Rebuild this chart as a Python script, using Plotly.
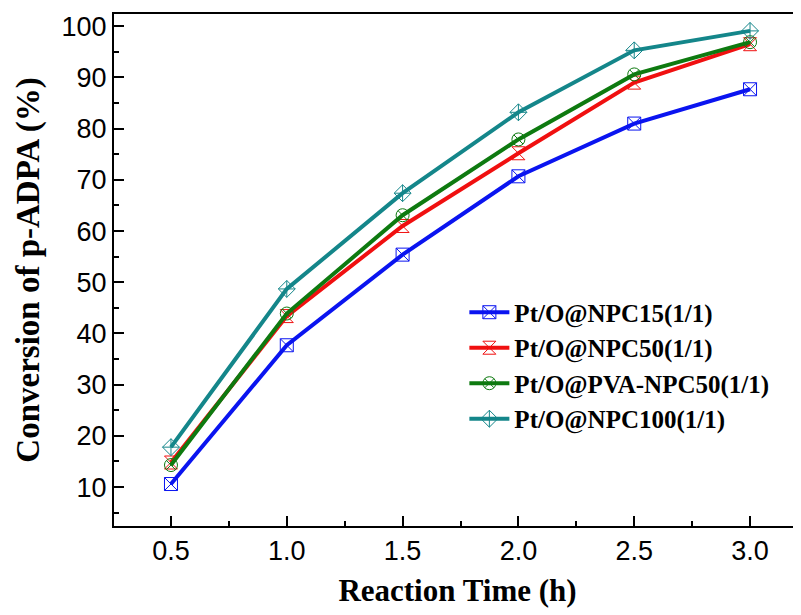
import plotly.graph_objects as go

time_h = [0.5, 1.0, 1.5, 2.0, 2.5, 3.0]
npc15 = [10.6, 37.7, 55.4, 70.7, 81.0, 87.7]
npc50 = [14.8, 43.4, 61.0, 75.2, 89.0, 96.5]
pva_npc50 = [14.3, 43.9, 63.1, 77.9, 90.6, 96.9]
npc100 = [17.8, 48.7, 67.4, 83.2, 95.3, 99.1]

names = ["Pt/O@NPC15(1/1)", "Pt/O@NPC50(1/1)", "Pt/O@PVA-NPC50(1/1)", "Pt/O@NPC100(1/1)"]
series = [npc15, npc50, pva_npc50, npc100]
colors = ["#0a14f0", "#f01010", "#0e7a10", "#14868a"]
symbols = ["square-x-open", "hourglass-open", "circle-x-open", "diamond-cross-open"]

fig = go.Figure()
for name, ys, c, s in zip(names, series, colors, symbols):
    fig.add_trace(go.Scatter(
        x=time_h, y=ys, name=name, mode="lines+markers",
        line=dict(color=c, width=4),
        marker=dict(symbol=s, size=13, color=c, line=dict(color=c, width=1)),
    ))

fig.update_layout(
    width=793, height=607,
    margin=dict(l=106, r=0, t=6, b=89),
    plot_bgcolor="white", paper_bgcolor="white",
    showlegend=True,
    legend=dict(
        x=0.51, y=0.462, xanchor="left", yanchor="top",
        bgcolor="rgba(0,0,0,0)",
        font=dict(family="Liberation Serif", size=25, color="black", weight="bold"),
        tracegroupgap=0, itemwidth=40,
    ),
)
fig.update_xaxes(
    range=[0.254, 3.22], tickvals=[0.5, 1.0, 1.5, 2.0, 2.5, 3.0],
    ticktext=["0.5", "1.0", "1.5", "2.0", "2.5", "3.0"],
    ticks="inside", ticklen=10, tickwidth=2, tickcolor="black",
    minor=dict(ticks="inside", ticklen=5, tickwidth=2, tickcolor="black", dtick=0.25, tick0=0.25),
    showline=True, linecolor="black", linewidth=2, mirror=True,
    showgrid=False, zeroline=False, automargin=False,
    tickfont=dict(family="Liberation Sans", size=27, color="black"),
    title=dict(text="Reaction Time (h)", standoff=14,
               font=dict(family="Liberation Serif", size=31, color="black", weight="bold")),
)
fig.update_yaxes(
    range=[2.4, 102.4], tickvals=[10, 20, 30, 40, 50, 60, 70, 80, 90, 100],
    ticks="inside", ticklen=10, tickwidth=2, tickcolor="black",
    minor=dict(ticks="inside", ticklen=5, tickwidth=2, tickcolor="black", dtick=5, tick0=5),
    showline=True, linecolor="black", linewidth=2,
    showgrid=False, zeroline=False, automargin=False,
    tickfont=dict(family="Liberation Sans", size=27, color="black"),
    title=dict(text="Conversion of p-ADPA (%)", standoff=12,
               font=dict(family="Liberation Serif", size=33, color="black", weight="bold")),
)

fig.write_html("out.html")
